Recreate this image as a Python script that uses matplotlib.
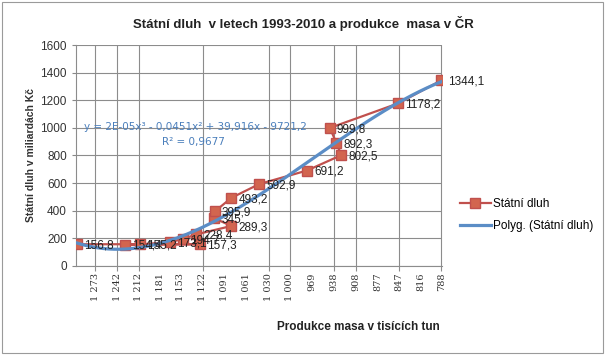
import numpy as np
import matplotlib
matplotlib.use("Agg")
import matplotlib.pyplot as plt
from matplotlib.patches import Rectangle

# Produkce masa (tis. tun) a státní dluh (mld. Kč), roky 1993-2010
years = list(range(1993, 2011))
produkce = [1298, 1126, 1231, 1210, 1168, 1150, 1131, 1082, 1106,
            1105, 1082, 1043, 976, 928, 935, 944, 848, 788]
dluh = [156.8, 157.3, 154.4, 155.2, 173.1, 194.7, 228.4, 289.3, 345.0,
        395.9, 493.2, 592.9, 691.2, 802.5, 892.3, 999.8, 1178.2, 1344.1]

tick_vals = [1273, 1242, 1212, 1181, 1153, 1122, 1091, 1061, 1030,
             1000, 969, 938, 908, 877, 847, 816, 788]
grid_vals = [1273, 1242, 1212, 1122, 1030, 1000, 938, 908, 847, 788]

eq_text = "y = 2E-05x³ - 0,0451x² + 39,916x - 9721,2"
r2_text = "R² = 0,9677"

plt.rcParams['font.family'] = ['Liberation Sans', 'DejaVu Sans']

red = '#C0504D'
blue = '#5B8DC6'

fig = plt.figure(figsize=(6.07, 3.55), dpi=100)
ax = fig.add_axes([0.125, 0.251, 0.603, 0.622])

x = np.array(produkce, dtype=float)
y = np.array(dluh)

# polynom 3. stupne jako trend
coef = np.polyfit(x, y, 3)
xs = np.linspace(x.min(), x.max(), 200)
ys = np.polyval(coef, xs)

ax.plot(x, y, color=red, lw=1.6, marker='s', ms=6.5, mfc='#D2654F',
        mec='#C0504D', label='Státní dluh', zorder=3)
ax.plot(xs, ys, color=blue, lw=2.3, label='Polyg. (Státní dluh)', zorder=4)

for xv, yv in zip(x, y):
    txt = f"{yv:g}".replace('.', ',')
    ax.annotate(txt, (xv, yv), xytext=(5, -1), textcoords='offset points',
                ha='left', va='center', fontsize=8.5, color='#222222', zorder=5)

ax.set_xlim(1300, 787)
ax.set_ylim(0, 1600)
ax.set_yticks(np.arange(0, 1601, 200))
ax.set_xticks(tick_vals)
ax.set_xticklabels([f"{v:,}".replace(',', ' ') for v in tick_vals],
                   rotation=90, fontsize=7, family='DejaVu Serif', color='#333333')
ax.tick_params(axis='x', length=0, pad=5)
ax.tick_params(axis='y', length=3, color='#888888', labelsize=8.5, labelcolor='#333333')

ax.grid(axis='y', color='#8c8c8c', lw=0.8)
ax.set_axisbelow(True)
ax.vlines(grid_vals, -0.025, 1, transform=ax.get_xaxis_transform(),
          color='#8c8c8c', lw=0.8, clip_on=False, zorder=0)

for s in ['top', 'right']:
    ax.spines[s].set_visible(False)
for s in ['left', 'bottom']:
    ax.spines[s].set_color('#8c8c8c')
    ax.spines[s].set_linewidth(0.8)

ax.set_ylabel('Státní dluh v miliardách Kč', fontsize=7.5, fontweight='bold',
              color='#333333')
ax.yaxis.set_label_coords(-0.11, 0.5)

fig.text(0.5, 0.935, 'Státní dluh  v letech 1993-2010 a produkce  masa v ČR',
         ha='center', va='center', fontsize=9.5, fontweight='bold', color='#222222')
fig.text(0.59, 0.079, 'Produkce masa v tisících tun', ha='center', va='center',
         fontsize=8.5, fontweight='bold', color='#222222')

fig.text(0.322, 0.643, eq_text, ha='center', va='center', fontsize=7.5,
         family='DejaVu Sans', color='#4A7EBB')
fig.text(0.318, 0.599, r2_text, ha='center', va='center', fontsize=7.5,
         family='DejaVu Sans', color='#4A7EBB')

leg = ax.legend(loc='center left', bbox_to_anchor=(1.02, 0.23), frameon=False,
                fontsize=8.5, handlelength=2.6, labelspacing=0.9, handletextpad=0.2)

fig.patches.append(Rectangle((0.003, 0.005), 0.99, 0.99, transform=fig.transFigure,
                             fill=False, edgecolor='#9a9a9a', lw=0.8))

fig.savefig('out.png', dpi=100)
